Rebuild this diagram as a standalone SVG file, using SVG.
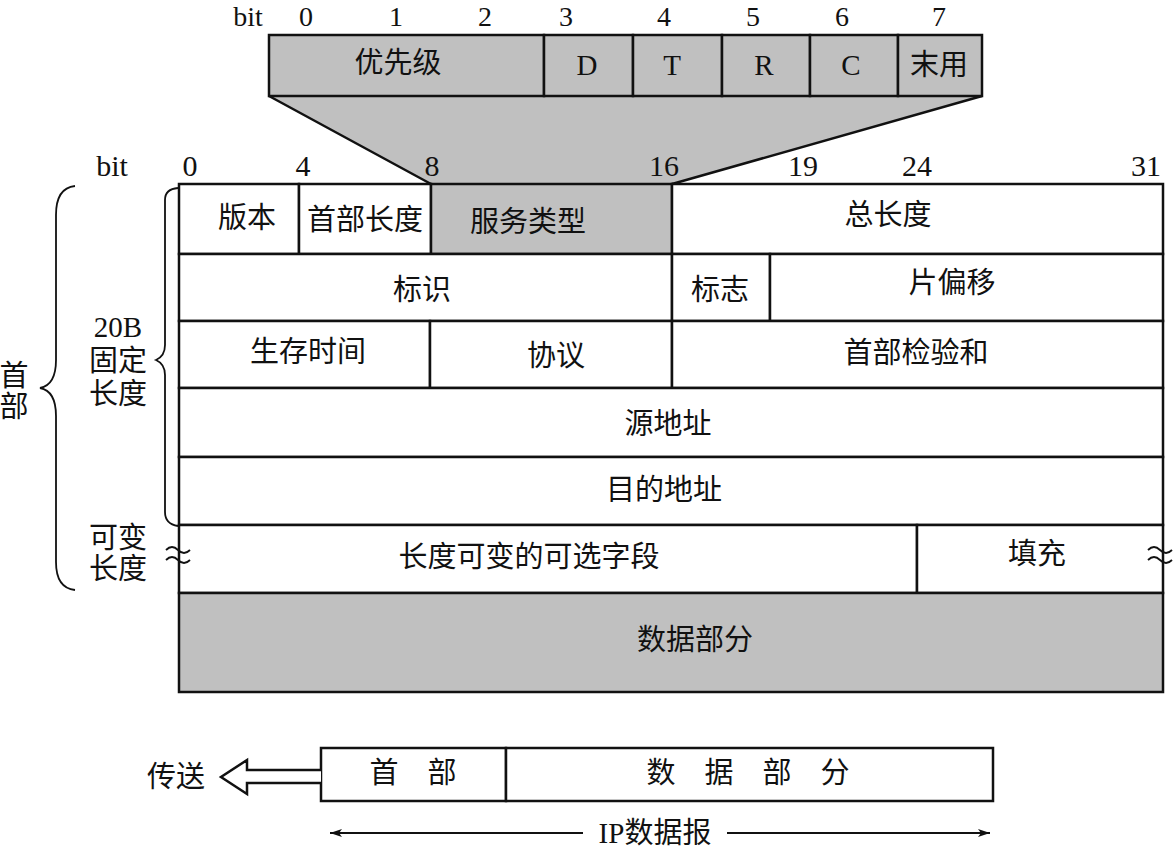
<svg xmlns="http://www.w3.org/2000/svg" width="1174" height="849" viewBox="0 0 1174 849">
<style>
.t{font-family:"Liberation Serif","Noto Sans CJK SC",serif;font-size:29px;fill:#111;text-anchor:middle;dominant-baseline:central}
.n{font-family:"Liberation Serif",serif;font-size:30px;fill:#111;text-anchor:middle}
.nt{font-family:"Liberation Serif",serif;font-size:28px;fill:#111;text-anchor:middle}
.b{fill:#fff;stroke:#111;stroke-width:2.5}
.g{fill:#c0c0c0;stroke:#111;stroke-width:2.5}
.l{fill:none;stroke:#111;stroke-width:2.5}
.thin{fill:none;stroke:#111;stroke-width:1.8}
</style>
<defs>
<marker id="ah" viewBox="0 0 12 8" refX="12" refY="4" markerWidth="12" markerHeight="8" markerUnits="userSpaceOnUse" orient="auto-start-reverse">
<path d="M0,0 L12,4 L0,8 L3,4 Z" fill="#111"/>
</marker>
</defs>
<g id="bits-top">
<text class="nt" x="248" y="26">bit</text>
<text class="nt" x="306" y="26">0</text>
<text class="nt" x="396" y="26">1</text>
<text class="nt" x="485" y="26">2</text>
<text class="nt" x="566" y="26">3</text>
<text class="nt" x="664" y="26">4</text>
<text class="nt" x="753" y="26">5</text>
<text class="nt" x="842" y="26">6</text>
<text class="nt" x="939" y="26">7</text>
</g>
<g id="tos-expand">
<path d="M269,96 L982,96 L672,184 L431,184 Z" fill="#c0c0c0" stroke="none"/>
<path d="M269,96 L431,184 M982,96 L672,184" class="l"/>
</g>
<g id="tos">
<rect class="g" x="269" y="35" width="275" height="61"/>
<rect class="g" x="544" y="35" width="89" height="61"/>
<rect class="g" x="633" y="35" width="89" height="61"/>
<rect class="g" x="722" y="35" width="88" height="61"/>
<rect class="g" x="810" y="35" width="88" height="61"/>
<rect class="g" x="898" y="35" width="84" height="61"/>
<text class="t" x="398" y="63">优先级</text>
<text class="t" x="587" y="65">D</text>
<text class="t" x="672" y="65">T</text>
<text class="t" x="764" y="65">R</text>
<text class="t" x="851" y="65">C</text>
<text class="t" x="939" y="65">末用</text>
</g>
<g id="bits-main">
<text class="n" x="112" y="176">bit</text>
<text class="n" x="190" y="176">0</text>
<text class="n" x="303" y="176">4</text>
<text class="n" x="432" y="176">8</text>
<text class="n" x="664" y="176">16</text>
<text class="n" x="803" y="176">19</text>
<text class="n" x="917" y="176">24</text>
<text class="n" x="1146" y="176">31</text>
</g>
<g id="row1">
<rect class="b" x="179" y="184" width="120" height="70"/>
<rect class="b" x="299" y="184" width="132" height="70"/>
<rect class="g" x="431" y="184" width="241" height="70"/>
<rect class="b" x="672" y="184" width="491" height="70"/>
<text class="t" x="247" y="218">版本</text>
<text class="t" x="365" y="220">首部长度</text>
<text class="t" x="528" y="222">服务类型</text>
<text class="t" x="888" y="215">总长度</text>
</g>
<g id="row2">
<rect class="b" x="179" y="254" width="493" height="67"/>
<rect class="b" x="672" y="254" width="98" height="67"/>
<rect class="b" x="770" y="254" width="393" height="67"/>
<text class="t" x="422" y="290">标识</text>
<text class="t" x="720" y="290">标志</text>
<text class="t" x="952" y="283">片偏移</text>
</g>
<g id="row3">
<rect class="b" x="179" y="321" width="251" height="67"/>
<rect class="b" x="430" y="321" width="242" height="67"/>
<rect class="b" x="672" y="321" width="491" height="67"/>
<text class="t" x="308" y="352">生存时间</text>
<text class="t" x="556" y="356">协议</text>
<text class="t" x="916" y="353">首部检验和</text>
</g>
<g id="row4">
<rect class="b" x="179" y="388" width="984" height="69"/>
<text class="t" x="668" y="424">源地址</text>
</g>
<g id="row5">
<rect class="b" x="179" y="457" width="984" height="68"/>
<text class="t" x="664" y="490">目的地址</text>
</g>
<g id="row6">
<rect class="b" x="179" y="525" width="738" height="68"/>
<rect class="b" x="917" y="525" width="246" height="68"/>
<text class="t" x="529" y="557">长度可变的可选字段</text>
<text class="t" x="1037" y="554">填充</text>
<path class="thin" d="M166,550 q6,-6 12,0 t12,0 M166,560 q6,-6 12,0 t12,0"/>
<path class="thin" d="M1148,550 q6,-6 12,0 t12,0 M1148,560 q6,-6 12,0 t12,0"/>
</g>
<g id="row7">
<rect class="g" x="179" y="593" width="984" height="99"/>
<text class="t" x="695" y="640">数据部分</text>
</g>
<g id="braces">
<path class="thin" d="M75,186 Q56,188 56,215 L56,360 Q56,385 40,388 Q56,391 56,416 L56,562 Q56,588 75,590"/>
<path class="thin" d="M178,188 Q165,189 165,200 L165,345 Q165,356 156,360 Q165,364 165,375 L165,512 Q165,524 178,526"/>
<text class="t" x="14" y="376">首</text>
<text class="t" x="14" y="407">部</text>
<text class="t" x="118" y="327">20B</text>
<text class="t" x="118" y="361">固定</text>
<text class="t" x="118" y="394">长度</text>
<text class="t" x="118" y="538">可变</text>
<text class="t" x="118" y="569">长度</text>
</g>
<g id="datagram">
<rect class="b" x="321" y="748" width="185" height="53"/>
<rect class="b" x="506" y="748" width="487" height="53"/>
<text class="t" x="413" y="773">首　部</text>
<text class="t" x="748" y="773">数　据　部　分</text>
<text class="t" x="176" y="777">传送</text>
</g>
<g id="connectors">
<path d="M321,770 L247,770 L247,760 L221,777 L247,794 L247,783 L321,783" fill="#fff" stroke="#111" stroke-width="2.5" stroke-linejoin="miter"/>
<line class="thin" x1="330" y1="833" x2="583" y2="833" marker-start="url(#ah)"/>
<line class="thin" x1="727" y1="833" x2="990" y2="833" marker-end="url(#ah)"/>
<text class="t" x="655" y="833">IP数据报</text>
</g>
</svg>
